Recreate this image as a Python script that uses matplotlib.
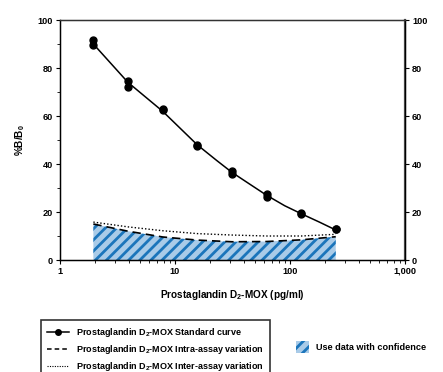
import matplotlib
matplotlib.use("Agg")
import matplotlib.pyplot as plt
import numpy as np
from matplotlib.lines import Line2D
from matplotlib.patches import Patch
from matplotlib.ticker import FixedLocator, LogLocator, NullFormatter

plt.rcParams['font.family'] = ['Liberation Sans', 'DejaVu Sans']
plt.rcParams['font.weight'] = 'bold'
plt.rcParams['mathtext.fontset'] = 'custom'
plt.rcParams['mathtext.rm'] = 'Liberation Sans:bold'
plt.rcParams['mathtext.bf'] = 'Liberation Sans:bold'
plt.rcParams['mathtext.default'] = 'bf'
plt.rcParams['hatch.linewidth'] = 2.0
plt.rcParams['hatch.color'] = '#1b75bb'

# standard concentrations (pg/ml) and duplicate %B/B0 readings
conc = [1.95, 3.9, 7.8, 15.6, 31.3, 62.5, 125, 250]
rep1 = [91.5, 74.5, 63.0, 48.0, 37.0, 27.4, 19.4, 13.0]
rep2 = [89.5, 72.0, 62.5, 47.5, 35.8, 26.4, 19.2, 12.8]
# fitted standard curve
fit_x = [1.95, 3.9, 7.8, 15.6, 23, 31.3, 45, 62.5, 90, 125, 180, 250]
fit_y = [90.0, 74.0, 62.0, 48.0, 41.5, 36.5, 31.5, 27.0, 22.6, 19.3, 15.8, 12.5]
# %CV
intra_cv = [15.0, 12.0, 9.6, 8.3, 7.6, 7.7, 8.4, 9.7]
inter_cv = [15.8, 13.8, 12.2, 11.0, 10.4, 10.0, 10.0, 10.7]

fig = plt.figure(figsize=(4.43, 3.72), dpi=100)
ax = fig.add_axes([60/443, 1-260/372, 345/443, 240/372])
ax2 = ax.twinx()

ax.set_zorder(ax2.get_zorder() + 1)
ax.patch.set_visible(False)

ax2.fill_between(conc, 0, intra_cv, facecolor='#a9cbe8', edgecolor='#1b75bb',
                 hatch='///', linewidth=0)
ax2.plot(conc, intra_cv, color='black', ls=(0, (5, 3)), lw=1.2)
ax2.plot(conc, inter_cv, color='black', ls=(0, (1, 1.5)), lw=1.0)

ax.plot(fit_x, fit_y, color='black', lw=1.1)
ax.plot(conc, rep1, 'o', color='black', ms=5)
ax.plot(conc, rep2, 'o', color='black', ms=5)

for a in (ax, ax2):
    a.set_xscale('log')
    a.set_xlim(1, 1000)
    a.set_ylim(0, 100)
    a.yaxis.set_major_locator(FixedLocator([0, 20, 40, 60, 80, 100]))
    a.yaxis.set_minor_locator(FixedLocator([10, 30, 50, 70, 90]))
    a.tick_params(which='major', length=3, width=0.8, labelsize=6.6, pad=2)
    a.tick_params(which='minor', length=2, width=0.6)
    for lab in a.get_yticklabels():
        lab.set_fontweight('bold')

ax.set_xticks([1, 10, 100, 1000])
ax.set_xticklabels(['1', '10', '100', '1,000'], fontweight='bold')
ax.xaxis.set_minor_locator(LogLocator(base=10, subs=np.arange(2, 10)))
ax.xaxis.set_minor_formatter(NullFormatter())
ax2.tick_params(axis='y', which='minor', length=0)

for s in ax.spines.values():
    s.set_linewidth(1.0)
ax2.spines['right'].set_color('#555555')
ax2.spines['right'].set_linewidth(1.6)
ax.spines['top'].set_color('#333333')

ax.set_xlabel('Prostaglandin D$_2$-MOX (pg/ml)', fontsize=7.2, fontweight='bold', labelpad=9)
ax.set_ylabel('%B/B$_0$', fontsize=7.2, fontweight='bold', labelpad=8)
ax2.set_ylabel('%CV', fontsize=7.2, fontweight='bold', labelpad=16)

handles = [
    Line2D([], [], color='black', lw=1.1, marker='o', ms=4),
    Line2D([], [], color='black', lw=1.1, ls=(0, (3, 2))),
    Line2D([], [], color='black', lw=0.8, ls=(0, (1, 1.2))),
]
labels = [
    'Prostaglandin D$_2$-MOX Standard curve',
    'Prostaglandin D$_2$-MOX Intra-assay variation',
    'Prostaglandin D$_2$-MOX Inter-assay variation',
]
leg = fig.legend(handles, labels, loc='upper left',
                 bbox_to_anchor=(41/443, 1-320/372), fontsize=6.5,
                 frameon=True, fancybox=False, edgecolor='black',
                 handlelength=2.4, handletextpad=0.8, labelspacing=0.45,
                 borderpad=0.7, borderaxespad=0)
leg.get_frame().set_linewidth(1.2)
for t in leg.get_texts():
    t.set_fontweight('bold')

leg2 = fig.legend([Patch(facecolor='#a9cbe8', edgecolor='#1b75bb', hatch='///', lw=0)],
                  ['Use data with confidence'], loc='center left',
                  bbox_to_anchor=(292/443, 1-347/372), fontsize=6.6,
                  frameon=False, handlelength=1.4, handleheight=1.6,
                  handletextpad=0.8, borderaxespad=0)
for t in leg2.get_texts():
    t.set_fontweight('bold')

fig.savefig('out.png', dpi=100)
